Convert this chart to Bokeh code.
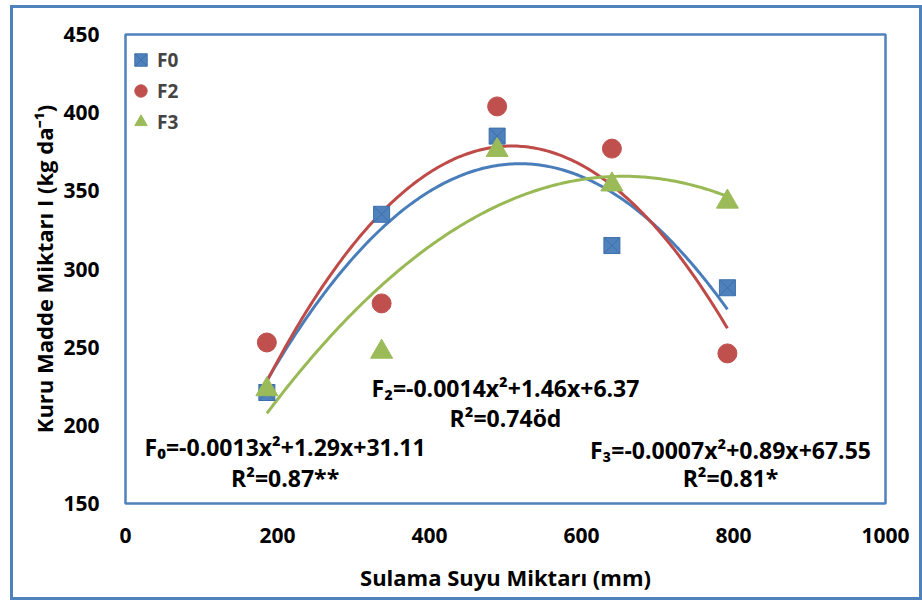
import numpy as np
from bokeh.plotting import figure
from bokeh.models import Range1d, FixedTicker, Legend, LegendItem
from bokeh.core.properties import value
from bokeh.embed import file_html
from bokeh.resources import INLINE

# ---- data ----
irrigation_mm = [186, 337, 489, 640, 792]
f0_values = [221, 335, 385, 315, 288]
f2_values = [253, 278, 404, 377, 246]
f3_values = [223, 247, 376, 354, 343]
series_names = ["F0", "F2", "F3"]
x_ticks = [0, 200, 400, 600, 800, 1000]
y_ticks = [150, 200, 250, 300, 350, 400, 450]
eq_f0 = ["F\u2080=-0.0013x\u00b2+1.29x+31.11", "R\u00b2=0.87**"]
eq_f2 = ["F\u2082=-0.0014x\u00b2+1.46x+6.37", "R\u00b2=0.74\u00f6d"]
eq_f3 = ["F\u2083=-0.0007x\u00b2+0.89x+67.55", "R\u00b2=0.81*"]

FONT = "Open Sans"
BLUE = "#4F81BD"
RED = "#C0504D"
GREEN = "#9BBB59"

p = figure(frame_width=760, frame_height=469, output_backend="svg", toolbar_location=None,
           x_range=Range1d(0, 1000), y_range=Range1d(150, 450),
           min_border_left=112, min_border_top=26, min_border_right=34, min_border_bottom=94)
p.margin = (5, 0, 0, 10)
p.styles = {"border": "3px solid #4F81BD"}
p.background_fill_color = "white"
p.border_fill_color = "white"
p.outline_line_color = BLUE
p.outline_line_width = 2.5
p.xgrid.visible = False
p.ygrid.visible = False

for ax in (p.xaxis[0], p.yaxis[0]):
    ax.axis_line_color = None
    ax.major_tick_line_color = None
    ax.minor_tick_line_color = None
    ax.major_label_text_font = FONT
    ax.major_label_text_font_style = "bold"
    ax.major_label_text_font_size = "21px"
    ax.major_label_text_color = "black"
    ax.axis_label_text_font = FONT
    ax.axis_label_text_font_style = "bold"
    ax.axis_label_text_font_size = "22px"
    ax.axis_label_text_color = "black"

p.xaxis.ticker = FixedTicker(ticks=x_ticks)
p.yaxis.ticker = FixedTicker(ticks=y_ticks)
p.xaxis.axis_label = "Sulama Suyu Miktar\u0131 (mm)"
p.yaxis.axis_label = "Kuru Madde Miktar\u0131 I (kg da\u207b\u00b9)"
p.xaxis.major_label_standoff = 18
p.xaxis.axis_label_standoff = 16
p.yaxis.major_label_standoff = 20
p.yaxis.axis_label_standoff = 1

# trend lines (2nd-order polynomial fits of the data)
xs = np.array(irrigation_mm, dtype=float)
grid = np.linspace(xs.min(), xs.max(), 200)
for vals, col in [(f0_values, "#4A7EBB"), (f2_values, "#BE4B48"), (f3_values, "#98B954")]:
    c = np.polyfit(xs, np.array(vals, dtype=float), 2)
    p.line(grid, np.polyval(c, grid), line_color=col, line_width=3)

r0 = p.scatter(irrigation_mm, f0_values, marker="square_x", size=16,
               fill_color=BLUE, line_color="#3D6FAB", line_width=1)
r2 = p.scatter(irrigation_mm, f2_values, marker="circle", size=19,
               fill_color=RED, line_color=RED)
r3 = p.scatter(irrigation_mm, f3_values, marker="triangle", size=22,
               fill_color=GREEN, line_color=GREEN)

legend = Legend(items=[LegendItem(label=series_names[0], renderers=[r0]),
                       LegendItem(label=series_names[1], renderers=[r2]),
                       LegendItem(label=series_names[2], renderers=[r3])],
                location=(0, 366))
legend.border_line_color = None
legend.background_fill_alpha = 0
legend.label_text_font = FONT
legend.label_text_font_style = "bold"
legend.label_text_font_size = "19px"
legend.glyph_width = 31
legend.glyph_height = 31
legend.spacing = 0
legend.padding = 2
legend.margin = 0
legend.label_standoff = 1
p.add_layout(legend)

def eq(xc, y1, y2, lines):
    p.text([xc, xc], [y1, y2], text=lines, text_align="center", text_baseline="middle",
           text_font=value(FONT), text_font_style="bold", text_font_size="23px",
           text_color="black")

eq(210, 186, 166, eq_f0)
eq(500, 224, 205, eq_f2)
eq(796, 184, 166, eq_f3)

open("out.html", "w").write(file_html(p, INLINE))
